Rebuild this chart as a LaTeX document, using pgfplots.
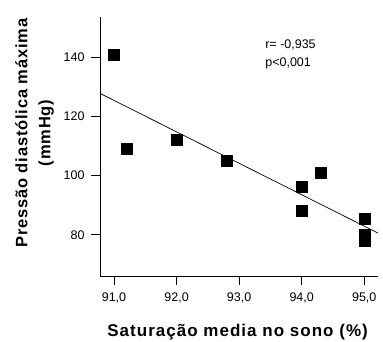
\documentclass[border=0pt]{standalone}
\usepackage{pgfplots}
\pgfplotsset{compat=1.18}
\usepackage{fontspec}
\setmainfont{Liberation Sans}
\setsansfont{Liberation Sans}
\begin{document}
\begin{tikzpicture}[x=1pt,y=1pt]
\useasboundingbox (0,0) rectangle (383,342);
\begin{axis}[
  at={(100pt,66pt)}, anchor=south west,
  scale only axis, width=278pt, height=259pt,
  xmin=90.776, xmax=95.22, ymin=66.1, ymax=153.6,
  axis lines=left, axis line style={-, line width=0.9pt},
  xtick={91,92,93,94,95}, ytick={80,100,120,140},
  tick align=outside, major tick length=9pt,
  tick style={line width=0.9pt, black},
  xticklabel style={font=\fontsize{12.5}{12.5}\selectfont, yshift=-4pt},
  yticklabel style={font=\fontsize{12.5}{12.5}\selectfont, xshift=-3pt},
  /pgf/number format/.cd, assume math mode=true, use comma, fixed, fixed zerofill, precision=1,
  /pgfplots/.cd,
  yticklabel={\pgfmathprintnumber[fixed,precision=0,fixed zerofill=false]{\tick}},
  xlabel={Saturação media no sono (\%)},
  xlabel style={font=\bfseries\fontsize{17}{17}\selectfont\addfontfeatures{LetterSpace=6}, at={(axis description cs:0.495,-0.215)}, anchor=center},
  ylabel={Pressão diastólica máxima\\(mmHg)},
  ylabel style={font=\bfseries\fontsize{16.5}{23}\selectfont\addfontfeatures{LetterSpace=5}, align=center, at={(axis description cs:-0.235,0.552)}, anchor=center},
  clip=false,
]
\addplot[black, line width=0.7pt] coordinates {(90.776,127.8) (95.22,80.6)};
\addplot[only marks, mark=square*, mark size=5.5pt, black] coordinates {
(91.0,141) (91.2,109) (92.0,112) (92.8,105) (94.0,96.4) (94.0,88.1) (94.3,101) (95.0,85.4) (95.0,80) (95.0,78)
};
\node[anchor=west, font=\fontsize{12.5}{12.5}\selectfont, inner sep=0pt] at (axis description cs:0.594,0.892) {r= -0,935};
\node[anchor=west, font=\fontsize{12.5}{12.5}\selectfont, inner sep=0pt] at (axis description cs:0.594,0.822) {p<0,001};
\end{axis}
\end{tikzpicture}
\end{document}
